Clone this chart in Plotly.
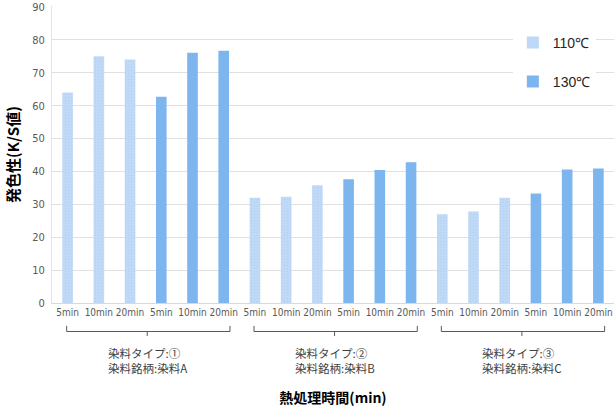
import plotly.graph_objects as go

# heat-treatment times within each temperature block
times = ["5min", "10min", "20min"]
temps = ["110℃", "130℃"]
group_labels = [
    "染料タイプ:①<br>染料銘柄:染料A",
    "染料タイプ:②<br>染料銘柄:染料B",
    "染料タイプ:③<br>染料銘柄:染料C",
]
# K/S values per dye group, one list per group (5, 10, 20 min)
ks_110 = [[64.0, 75.0, 74.0], [32.0, 32.3, 35.8], [27.0, 27.8, 32.0]]
ks_130 = [[62.7, 76.1, 76.7], [37.6, 40.4, 42.8], [33.3, 40.6, 40.9]]

y_ticks = [0, 10, 20, 30, 40, 50, 60, 70, 80, 90]

JP = "Noto Sans CJK JP"
NARROW = "DejaVu Sans Condensed, Liberation Sans Narrow, Liberation Sans, sans-serif"

# slot layout: each group has 3 slots at 110℃ followed by 3 slots at 130℃
n_per = len(times)
slots_per_group = 2 * n_per
x110, y110, x130, y130 = [], [], [], []
tickvals, ticktext = [], []
for g in range(len(group_labels)):
    base = g * slots_per_group
    for i, t in enumerate(times):
        x110.append(base + i)
        y110.append(ks_110[g][i])
        x130.append(base + n_per + i)
        y130.append(ks_130[g][i])
    for k in range(slots_per_group):
        tickvals.append(base + k)
        ticktext.append(times[k % n_per])

fig = go.Figure()
fig.add_trace(go.Bar(
    x=x110, y=y110, name=temps[0], width=0.34,
    marker=dict(
        color="#c0d9f6",
        line=dict(width=0),
        pattern=dict(shape=".", size=3, solidity=0.25,
                     fgcolor="#aac9ee", fillmode="overlay"),
    ),
    legendgroup="a",
))
fig.add_trace(go.Bar(
    x=x130, y=y130, name=temps[1], width=0.34,
    marker=dict(color="#7db5ee", line=dict(width=0)),
    legendgroup="b",
))

# brackets and two-line labels beneath each dye group
y_top, y_bot, y_stem = -0.077, -0.096, -0.111
for g, lab in enumerate(group_labels):
    base = g * slots_per_group
    x0, x1 = base - 0.03, base + 5.2
    xc = base + 2.55
    line = dict(color="#595959", width=1)
    fig.add_shape(type="line", xref="x", yref="paper", x0=x0, x1=x0, y0=y_top, y1=y_bot, line=line)
    fig.add_shape(type="line", xref="x", yref="paper", x0=x1, x1=x1, y0=y_top, y1=y_bot, line=line)
    fig.add_shape(type="line", xref="x", yref="paper", x0=x0, x1=x1, y0=y_bot, y1=y_bot, line=line)
    fig.add_shape(type="line", xref="x", yref="paper", x0=xc, x1=xc, y0=y_bot, y1=y_stem, line=line)
    fig.add_annotation(
        x=xc, y=-0.135, xref="x", yref="paper", text=lab, showarrow=False,
        xanchor="center", yanchor="top", align="left",
        font=dict(family=JP, size=11.5, color="#404040"),
    )

fig.update_layout(
    width=614, height=409,
    margin=dict(l=52, r=0, t=6, b=106),
    paper_bgcolor="white", plot_bgcolor="white",
    barmode="overlay",
    showlegend=True,
    legend=dict(
        x=0.82, y=0.93, xanchor="left", yanchor="top",
        bgcolor="white", tracegroupgap=18, itemwidth=30,
        font=dict(family="Liberation Sans, Arial, sans-serif", size=14, color="#262626"),
    ),
    xaxis=dict(
        range=[-0.5, 17.5], tickmode="array", tickvals=tickvals, ticktext=ticktext,
        showgrid=False, zeroline=False, showline=True, linecolor="#d9d9d9",
        ticks="", tickfont=dict(family=NARROW, size=10, color="#595959"),
        title=dict(text="<b>熱処理時間(min)</b>", standoff=76,
                   font=dict(family=JP, size=14, color="#000000")),
    ),
    yaxis=dict(
        range=[0, 90.3], tickmode="array", tickvals=y_ticks,
        showgrid=True, gridcolor="#e0e0e0", gridwidth=1.3,
        zeroline=False, showline=True, linecolor="#e3e3e3",
        ticks="", tickfont=dict(family=NARROW, size=11, color="#595959"),
        ticklabelstandoff=4,
        title=dict(text="<b>発色性(K/S値)</b>", standoff=8,
                   font=dict(family=JP, size=15, color="#000000")),
    ),
)

fig.write_html("out.html")
